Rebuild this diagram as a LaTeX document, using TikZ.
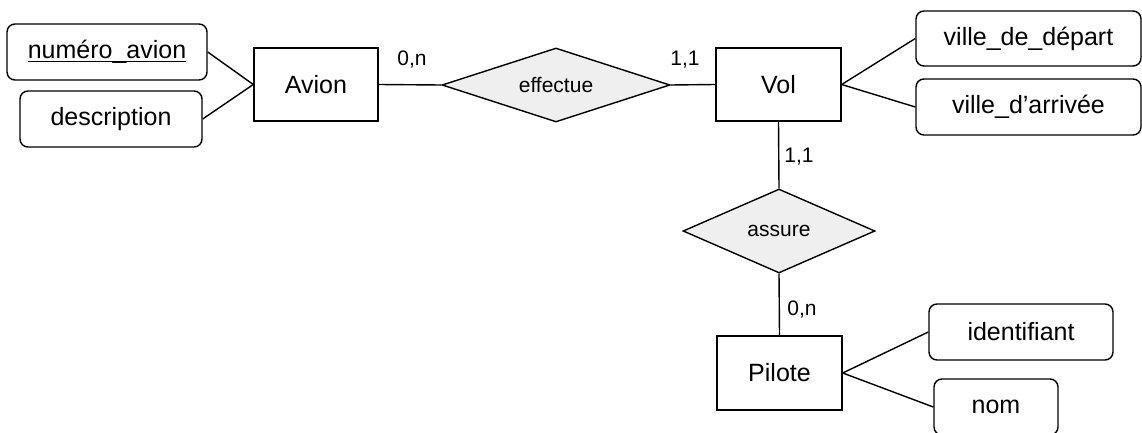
\documentclass[tikz,border=0pt]{standalone}
\usepackage{fontspec}
\setmainfont{Liberation Sans}
\usetikzlibrary{shapes.geometric}
\definecolor{relfill}{RGB}{239,239,239}
\newcommand{\thickul}[1]{\setbox0\hbox{#1}\leavevmode\rlap{\copy0}\raisebox{-3.5pt}{\rule{\wd0}{1.6pt}}}
\begin{document}
\begin{tikzpicture}[x=1pt,y=-1pt,
  ent/.style={draw,line width=1.4pt,inner sep=0pt,font=\fontsize{25}{30}\selectfont},
  attr/.style={draw,line width=1.4pt,rounded corners=8pt,inner sep=0pt,font=\fontsize{25}{30}\selectfont},
  rel/.style={draw,line width=1.4pt,diamond,aspect=3,inner sep=0pt,fill=relfill,font=\fontsize{21}{25}\selectfont},
  card/.style={inner sep=0pt,font=\fontsize{21}{25}\selectfont},
  link/.style={line width=1.4pt}]
\clip (0,0) rectangle (1142,433);
\useasboundingbox (0,0) rectangle (1142,433);
\node[attr,minimum width=200pt,minimum height=56pt] (num) at (107,52) {\thickul{numéro\_avion}};
\node[attr,minimum width=182pt,minimum height=56pt] (desc) at (111,119) {description};
\node[ent,minimum width=124pt,minimum height=73pt] (avion) at (316,84.5) {Avion};
\node[rel,minimum width=228pt,minimum height=74pt] (eff) at (556,85) {effectue};
\node[ent,minimum width=125pt,minimum height=73pt] (vol) at (778.5,84.5) {Vol};
\node[attr,minimum width=225pt,minimum height=55pt] (vdep) at (1028.5,38.5) {ville\_de\_départ};
\node[attr,minimum width=225pt,minimum height=56pt] (varr) at (1028.5,107) {ville\_d’arrivée};
\node[rel,minimum width=192pt,minimum height=84pt] (ass) at (779,231) {assure};
\node[ent,minimum width=125pt,minimum height=74pt] (pil) at (779.5,373) {Pilote};
\node[attr,minimum width=184pt,minimum height=56pt] (ident) at (1021,332) {identifiant};
\node[attr,minimum width=124pt,minimum height=56pt] (nom) at (996,407) {nom};
\node[card] (c1) at (412,60) {0,n};
\node[card] (c2) at (685,60) {1,1};
\node[card] (c3) at (799,157) {1,1};
\node[card] (c4) at (802,310) {0,n};
\draw[link] (num.east) -- (avion.west);
\draw[link] (desc.east) -- (avion.west);
\draw[link] (avion.east) -- (eff.west);
\draw[link] (eff.east) -- (vol.west);
\draw[link] (vol.east) -- (vdep.west);
\draw[link] (vol.east) -- (varr.west);
\draw[link] (vol.south) -- (ass.north);
\draw[link] (ass.south) -- (pil.north);
\draw[link] (pil.east) -- (ident.west);
\draw[link] (pil.east) -- (nom.west);
\end{tikzpicture}
\end{document}
